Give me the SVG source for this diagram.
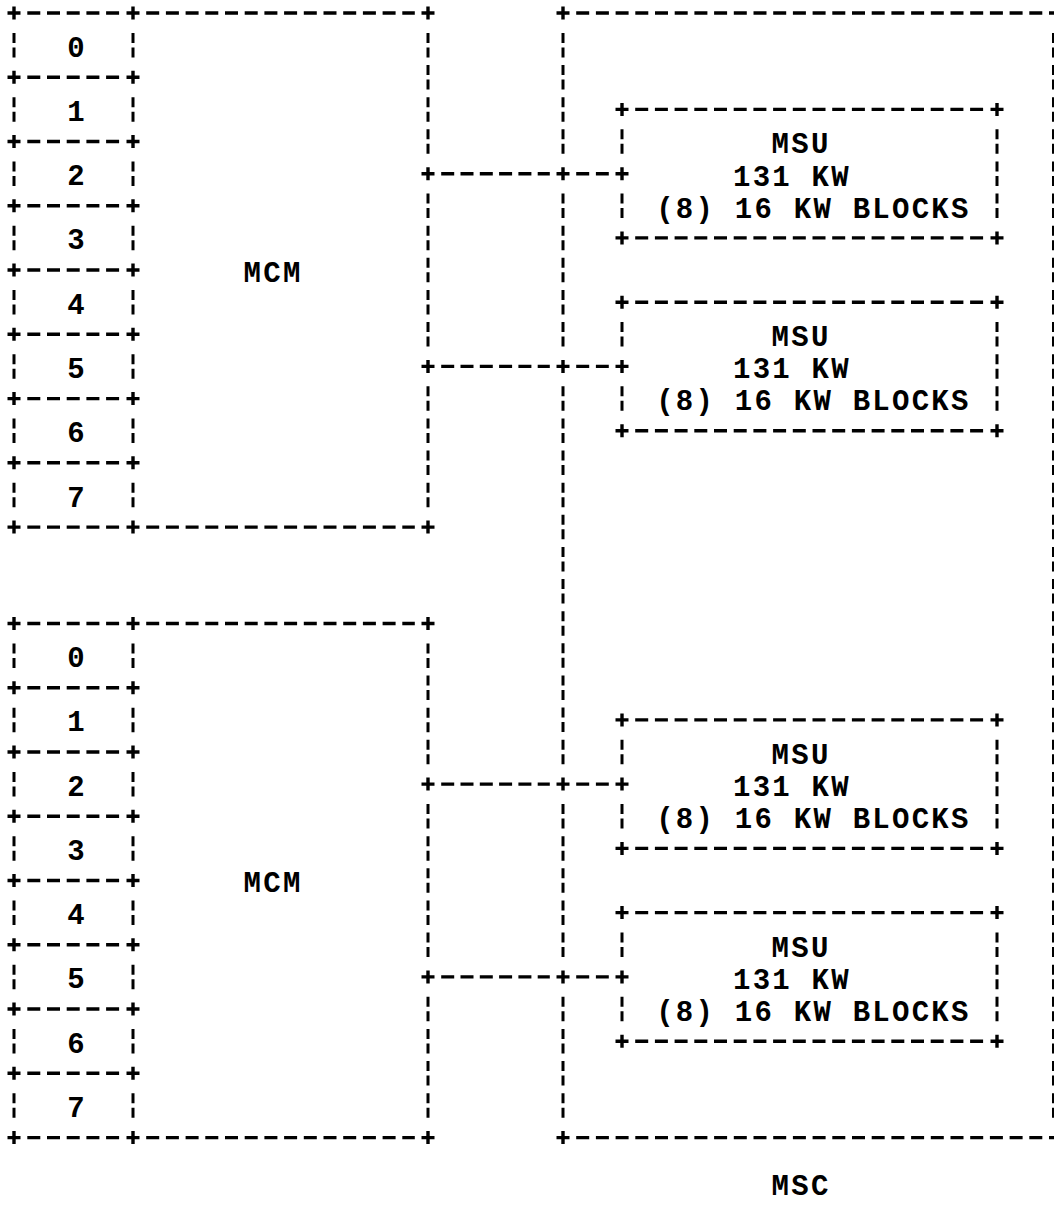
<svg xmlns="http://www.w3.org/2000/svg" width="1054" height="1221" viewBox="0 0 1054 1221">
<style>
.h{stroke:#000;stroke-width:3.4;stroke-dasharray:13 6.7;fill:none}
.hk{stroke:#000;stroke-width:3.4;stroke-dasharray:13 6.3;fill:none}
.v{stroke:#000;stroke-width:3;stroke-dasharray:10 4.5 10 7.63;fill:none}
.vc{stroke:#000;stroke-width:3;stroke-dasharray:10 4.5 10 39.76;fill:none}
text{font-family:"Liberation Mono","DejaVu Sans Mono",monospace;font-weight:bold;font-size:29px;letter-spacing:2.25px;fill:#000}
</style>
<defs>
<path id="p" d="M-6.5 0H6.5M0-6.5V6.5" stroke="#000" stroke-width="3.4" fill="none"/>
</defs>
<rect width="1054" height="1221" fill="#fff"/>

<g id="mcm1">
<line class="h" x1="27.3" y1="13" x2="119.7" y2="13"/>
<line class="h" x1="27.3" y1="77.3" x2="119.7" y2="77.3"/>
<line class="h" x1="27.3" y1="141.5" x2="119.7" y2="141.5"/>
<line class="h" x1="27.3" y1="205.8" x2="119.7" y2="205.8"/>
<line class="h" x1="27.3" y1="270" x2="119.7" y2="270"/>
<line class="h" x1="27.3" y1="334.3" x2="119.7" y2="334.3"/>
<line class="h" x1="27.3" y1="398.6" x2="119.7" y2="398.6"/>
<line class="h" x1="27.3" y1="462.8" x2="119.7" y2="462.8"/>
<line class="h" x1="27.3" y1="527.1" x2="119.7" y2="527.1"/>
<line class="h" x1="146.2" y1="13" x2="414.8" y2="13"/>
<line class="h" x1="146.2" y1="527.1" x2="414.8" y2="527.1"/>
<line class="vc" x1="14" y1="32.9" x2="14" y2="507.2"/>
<line class="vc" x1="133" y1="32.9" x2="133" y2="507.2"/>
<line class="v" x1="428" y1="32.9" x2="428" y2="153.8"/>
<line class="v" x1="428" y1="193.5" x2="428" y2="346.6"/>
<line class="v" x1="428" y1="386.3" x2="428" y2="507.2"/>
<use href="#p" x="14" y="13"/><use href="#p" x="133" y="13"/>
<use href="#p" x="14" y="77.3"/><use href="#p" x="133" y="77.3"/>
<use href="#p" x="14" y="141.5"/><use href="#p" x="133" y="141.5"/>
<use href="#p" x="14" y="205.8"/><use href="#p" x="133" y="205.8"/>
<use href="#p" x="14" y="270"/><use href="#p" x="133" y="270"/>
<use href="#p" x="14" y="334.3"/><use href="#p" x="133" y="334.3"/>
<use href="#p" x="14" y="398.6"/><use href="#p" x="133" y="398.6"/>
<use href="#p" x="14" y="462.8"/><use href="#p" x="133" y="462.8"/>
<use href="#p" x="14" y="527.1"/><use href="#p" x="133" y="527.1"/>
<use href="#p" x="428" y="13"/><use href="#p" x="428" y="527.1"/>
<text x="67.3" y="56.6">0</text>
<text x="67.3" y="120.9">1</text>
<text x="67.3" y="185.2">2</text>
<text x="67.3" y="249.4">3</text>
<text x="67.3" y="313.7">4</text>
<text x="67.3" y="377.9">5</text>
<text x="67.3" y="442.2">6</text>
<text x="67.3" y="506.5">7</text>
<text x="243.6" y="281.8">MCM</text>
</g>

<g id="mcm2">
<line class="h" x1="27.3" y1="623.5" x2="119.7" y2="623.5"/>
<line class="h" x1="27.3" y1="687.7" x2="119.7" y2="687.7"/>
<line class="h" x1="27.3" y1="752" x2="119.7" y2="752"/>
<line class="h" x1="27.3" y1="816.3" x2="119.7" y2="816.3"/>
<line class="h" x1="27.3" y1="880.5" x2="119.7" y2="880.5"/>
<line class="h" x1="27.3" y1="944.8" x2="119.7" y2="944.8"/>
<line class="h" x1="27.3" y1="1009" x2="119.7" y2="1009"/>
<line class="h" x1="27.3" y1="1073.3" x2="119.7" y2="1073.3"/>
<line class="h" x1="27.3" y1="1137.6" x2="119.7" y2="1137.6"/>
<line class="h" x1="146.2" y1="623.5" x2="414.8" y2="623.5"/>
<line class="h" x1="146.2" y1="1137.6" x2="414.8" y2="1137.6"/>
<line class="vc" x1="14" y1="643.4" x2="14" y2="1117.7"/>
<line class="vc" x1="133" y1="643.4" x2="133" y2="1117.7"/>
<line class="v" x1="428" y1="643.4" x2="428" y2="764.2"/>
<line class="v" x1="428" y1="804" x2="428" y2="957"/>
<line class="v" x1="428" y1="996.8" x2="428" y2="1117.7"/>
<use href="#p" x="14" y="623.5"/><use href="#p" x="133" y="623.5"/>
<use href="#p" x="14" y="687.7"/><use href="#p" x="133" y="687.7"/>
<use href="#p" x="14" y="752"/><use href="#p" x="133" y="752"/>
<use href="#p" x="14" y="816.3"/><use href="#p" x="133" y="816.3"/>
<use href="#p" x="14" y="880.5"/><use href="#p" x="133" y="880.5"/>
<use href="#p" x="14" y="944.8"/><use href="#p" x="133" y="944.8"/>
<use href="#p" x="14" y="1009"/><use href="#p" x="133" y="1009"/>
<use href="#p" x="14" y="1073.3"/><use href="#p" x="133" y="1073.3"/>
<use href="#p" x="14" y="1137.6"/><use href="#p" x="133" y="1137.6"/>
<use href="#p" x="428" y="623.5"/><use href="#p" x="428" y="1137.6"/>
<text x="67.3" y="667.1">0</text>
<text x="67.3" y="731.4">1</text>
<text x="67.3" y="795.6">2</text>
<text x="67.3" y="859.9">3</text>
<text x="67.3" y="924.1">4</text>
<text x="67.3" y="988.4">5</text>
<text x="67.3" y="1052.7">6</text>
<text x="67.3" y="1116.9">7</text>
<text x="243.6" y="892.3">MCM</text>
</g>

<g id="msc">
<line class="h" x1="576.2" y1="13" x2="1054" y2="13"/>
<line class="h" x1="576.2" y1="1137.6" x2="1054" y2="1137.6"/>
<line class="v" x1="563" y1="32.9" x2="563" y2="153.8"/>
<line class="v" x1="563" y1="193.5" x2="563" y2="346.6"/>
<line class="v" x1="563" y1="386.3" x2="563" y2="764.2"/>
<line class="v" x1="563" y1="804" x2="563" y2="957"/>
<line class="v" x1="563" y1="996.8" x2="563" y2="1117.7"/>
<line class="v" x1="1053.5" y1="32.9" x2="1053.5" y2="1117.7"/>
<use href="#p" x="563" y="13"/><use href="#p" x="563" y="1137.6"/>
<text x="771.6" y="1195">MSC</text>
</g>

<g id="msu1">
<line class="h" x1="635.2" y1="109.4" x2="983.8" y2="109.4"/>
<line class="h" x1="635.2" y1="237.9" x2="983.8" y2="237.9"/>
<line class="v" x1="622" y1="129.3" x2="622" y2="153.8"/>
<line class="v" x1="622" y1="193.5" x2="622" y2="218"/>
<line class="v" x1="997" y1="129.3" x2="997" y2="218"/>
<use href="#p" x="622" y="109.4"/><use href="#p" x="997" y="109.4"/>
<use href="#p" x="622" y="237.9"/><use href="#p" x="997" y="237.9"/>
<text x="771.6" y="153.3">MSU</text>
<text x="733" y="185.5">131 KW</text>
<text x="656.2" y="217.6">(8) 16 KW BLOCKS</text>
</g>

<g id="msu2">
<line class="h" x1="635.2" y1="302.2" x2="983.8" y2="302.2"/>
<line class="h" x1="635.2" y1="430.7" x2="983.8" y2="430.7"/>
<line class="v" x1="622" y1="322" x2="622" y2="346.6"/>
<line class="v" x1="622" y1="386.3" x2="622" y2="410.8"/>
<line class="v" x1="997" y1="322" x2="997" y2="410.8"/>
<use href="#p" x="622" y="302.2"/><use href="#p" x="997" y="302.2"/>
<use href="#p" x="622" y="430.7"/><use href="#p" x="997" y="430.7"/>
<text x="771.6" y="346.1">MSU</text>
<text x="733" y="378.2">131 KW</text>
<text x="656.2" y="410.4">(8) 16 KW BLOCKS</text>
</g>

<g id="msu3">
<line class="h" x1="635.2" y1="719.9" x2="983.8" y2="719.9"/>
<line class="h" x1="635.2" y1="848.4" x2="983.8" y2="848.4"/>
<line class="v" x1="622" y1="739.7" x2="622" y2="764.2"/>
<line class="v" x1="622" y1="804" x2="622" y2="828.5"/>
<line class="v" x1="997" y1="739.7" x2="997" y2="828.5"/>
<use href="#p" x="622" y="719.9"/><use href="#p" x="997" y="719.9"/>
<use href="#p" x="622" y="848.4"/><use href="#p" x="997" y="848.4"/>
<text x="771.6" y="763.8">MSU</text>
<text x="733" y="795.9">131 KW</text>
<text x="656.2" y="828.1">(8) 16 KW BLOCKS</text>
</g>

<g id="msu4">
<line class="h" x1="635.2" y1="912.6" x2="983.8" y2="912.6"/>
<line class="h" x1="635.2" y1="1041.2" x2="983.8" y2="1041.2"/>
<line class="v" x1="622" y1="932.5" x2="622" y2="957"/>
<line class="v" x1="622" y1="996.8" x2="622" y2="1021.3"/>
<line class="v" x1="997" y1="932.5" x2="997" y2="1021.3"/>
<use href="#p" x="622" y="912.6"/><use href="#p" x="997" y="912.6"/>
<use href="#p" x="622" y="1041.2"/><use href="#p" x="997" y="1041.2"/>
<text x="771.6" y="956.6">MSU</text>
<text x="733" y="988.7">131 KW</text>
<text x="656.2" y="1020.8">(8) 16 KW BLOCKS</text>
</g>

<g id="connectors">
<line class="hk" x1="441.2" y1="173.7" x2="549.8" y2="173.7"/>
<line class="h" x1="576.2" y1="173.7" x2="608.8" y2="173.7"/>
<use href="#p" x="428" y="173.7"/><use href="#p" x="563" y="173.7"/><use href="#p" x="622" y="173.7"/>
<line class="hk" x1="441.2" y1="366.4" x2="549.8" y2="366.4"/>
<line class="h" x1="576.2" y1="366.4" x2="608.8" y2="366.4"/>
<use href="#p" x="428" y="366.4"/><use href="#p" x="563" y="366.4"/><use href="#p" x="622" y="366.4"/>
<line class="hk" x1="441.2" y1="784.1" x2="549.8" y2="784.1"/>
<line class="h" x1="576.2" y1="784.1" x2="608.8" y2="784.1"/>
<use href="#p" x="428" y="784.1"/><use href="#p" x="563" y="784.1"/><use href="#p" x="622" y="784.1"/>
<line class="hk" x1="441.2" y1="976.9" x2="549.8" y2="976.9"/>
<line class="h" x1="576.2" y1="976.9" x2="608.8" y2="976.9"/>
<use href="#p" x="428" y="976.9"/><use href="#p" x="563" y="976.9"/><use href="#p" x="622" y="976.9"/>
</g>
</svg>
